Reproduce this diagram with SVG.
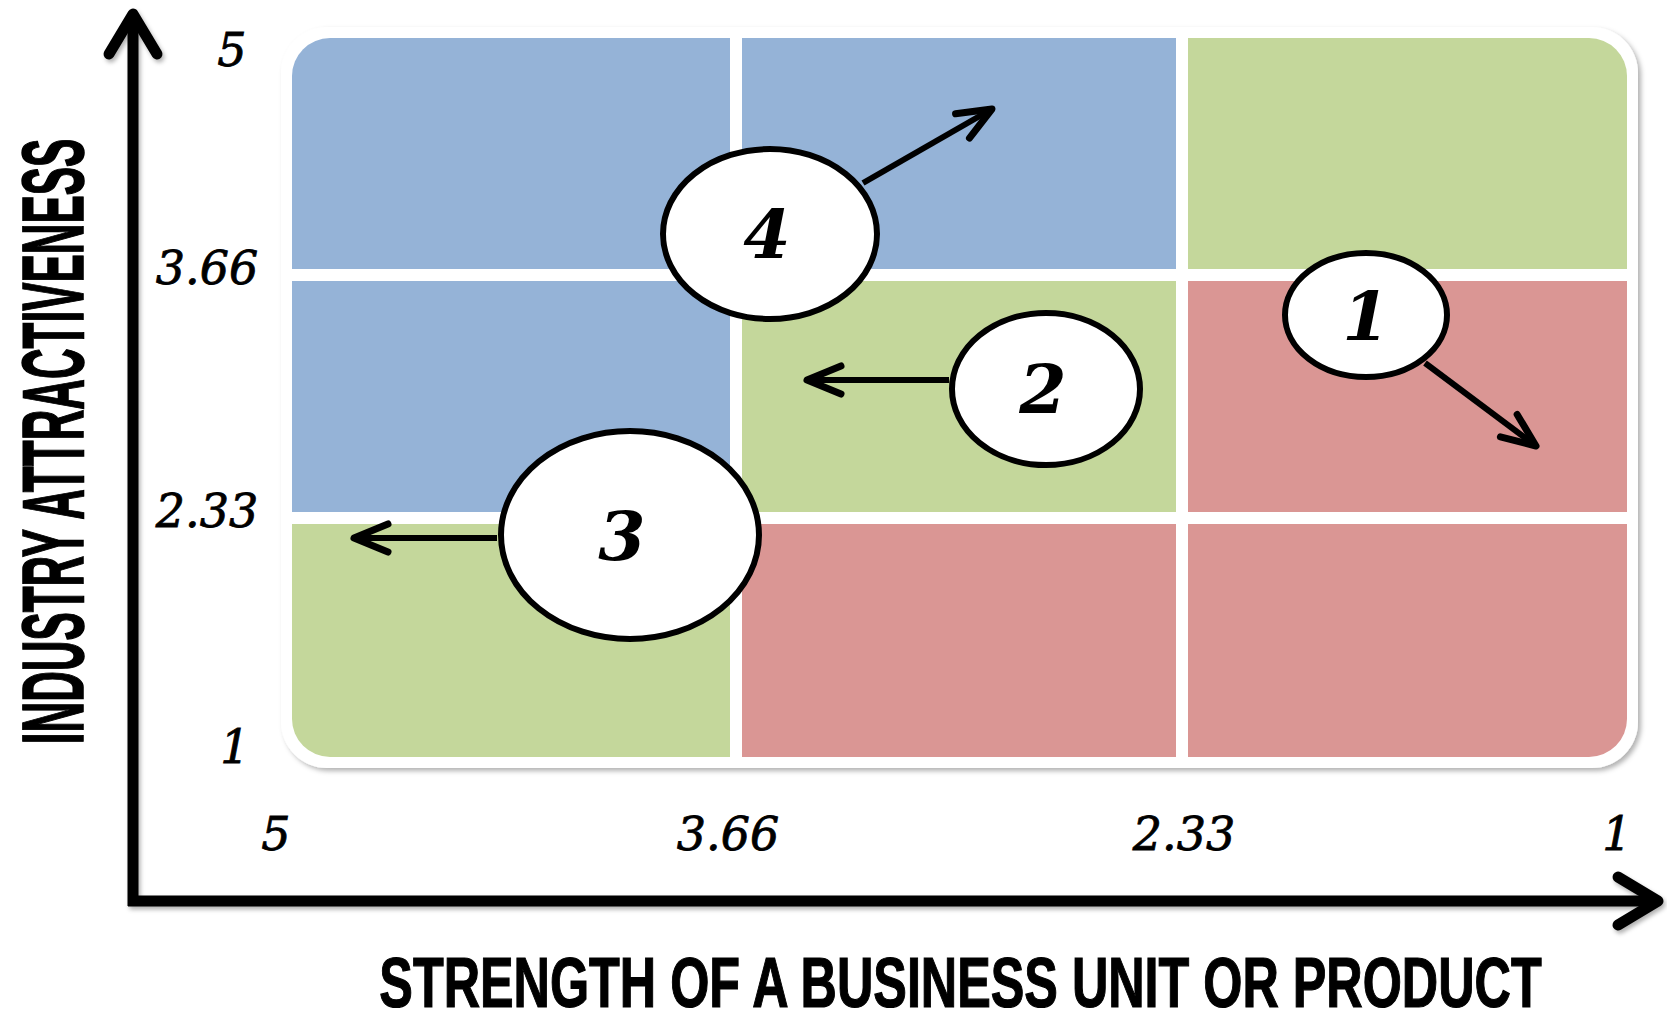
<svg xmlns="http://www.w3.org/2000/svg" width="1667" height="1013" viewBox="0 0 1667 1013">
  <defs>
    <style>
      .tick{font-family:"DejaVu Serif","Liberation Serif",serif;font-style:italic;font-size:46px;fill:#000;stroke:#000;stroke-width:0.8;text-anchor:middle}
      .title{font-family:"Liberation Sans","DejaVu Sans",sans-serif;font-weight:bold;fill:#000;stroke:#000;text-anchor:middle}
      .bubble ellipse{fill:#fff;stroke:#000;stroke-width:6}
      .bubble text{font-family:"DejaVu Serif","Liberation Serif",serif;font-style:italic;font-weight:bold;font-size:68px;fill:#000;text-anchor:middle}
      .blue{fill:#95B3D7}
      .green{fill:#C4D79B}
      .red{fill:#DA9694}
      .link{stroke:#000;stroke-width:6;fill:none;marker-end:url(#head)}
      .axis{stroke:#000;stroke-width:11;fill:none}
    </style>
    <filter id="soft" x="-5%" y="-5%" width="110%" height="110%">
      <feDropShadow dx="3" dy="3" stdDeviation="2.5" flood-color="#000" flood-opacity="0.3"/>
    </filter>
    <filter id="axshadow" x="-5%" y="-5%" width="110%" height="110%">
      <feDropShadow dx="2" dy="3" stdDeviation="2" flood-color="#000" flood-opacity="0.3"/>
    </filter>
    <clipPath id="gridclip">
      <rect x="292" y="38" width="1335" height="719" rx="38" ry="38"/>
    </clipPath>
    <marker id="head" markerUnits="userSpaceOnUse" viewBox="-44 -22 52 44" refX="0" refY="0" markerWidth="52" markerHeight="44" orient="auto">
      <path d="M-34,-14 L0,0 L-34,14" fill="none" stroke="#000" stroke-width="7" stroke-linecap="round" stroke-linejoin="round"/>
    </marker>
    <marker id="axhead" markerUnits="userSpaceOnUse" viewBox="-56 -34 66 68" refX="0" refY="0" markerWidth="66" markerHeight="68" orient="auto">
      <path d="M-40,-24 L0,0 L-40,24" fill="none" stroke="#000" stroke-width="11" stroke-linecap="round" stroke-linejoin="round"/>
    </marker>
  </defs>

  <rect width="1667" height="1013" fill="#fff"/>

  <!-- axes -->
  <g id="axes" filter="url(#axshadow)">
    <line class="axis" x1="133" y1="906" x2="133" y2="14" marker-end="url(#axhead)"/>
    <line class="axis" x1="128" y1="901" x2="1658" y2="901" marker-end="url(#axhead)"/>
  </g>

  <!-- axis titles (condensed by horizontal scaling) -->
  <text class="title" transform="translate(960.5,1007) scale(0.709,1)" font-size="71" stroke-width="1.2">STRENGTH OF A BUSINESS UNIT OR PRODUCT</text>
  <text class="title" transform="translate(83,441.5) rotate(-90) scale(0.482,1)" font-size="88" stroke-width="1.6">INDUSTRY ATTRACTIVENESS</text>

  <!-- tick values -->
  <g id="ticks">
    <text class="tick" x="232" y="66">5</text>
    <text class="tick" x="207" y="284">3.66</text>
    <text class="tick" x="207" y="527">2.33</text>
    <text class="tick" x="235" y="763">1</text>
    <text class="tick" x="276" y="850">5</text>
    <text class="tick" x="728" y="850">3.66</text>
    <text class="tick" x="1184" y="850">2.33</text>
    <text class="tick" x="1617" y="850">1</text>
  </g>

  <!-- 3x3 matrix -->
  <g id="grid">
    <rect x="281" y="27" width="1357" height="741" rx="46" ry="46" fill="#fff" filter="url(#soft)"/>
    <g clip-path="url(#gridclip)">
      <rect class="blue" x="292" y="38" width="438" height="231"/>
      <rect class="blue" x="742" y="38" width="434" height="231"/>
      <rect class="green" x="1188" y="38" width="439" height="231"/>
      <rect class="blue" x="292" y="281" width="438" height="231"/>
      <rect class="green" x="742" y="281" width="434" height="231"/>
      <rect class="red" x="1188" y="281" width="439" height="231"/>
      <rect class="green" x="292" y="524" width="438" height="233"/>
      <rect class="red" x="742" y="524" width="434" height="233"/>
      <rect class="red" x="1188" y="524" width="439" height="233"/>
    </g>
  </g>

  <!-- movement arrows -->
  <g id="connectors">
    <line class="link" x1="1425" y1="363" x2="1536" y2="446"/>
    <line class="link" x1="949" y1="380" x2="807" y2="380"/>
    <line class="link" x1="497" y1="538" x2="354" y2="538"/>
    <line class="link" x1="863" y1="183" x2="992" y2="109"/>
  </g>

  <!-- positions -->
  <g id="node-1" class="bubble">
    <ellipse cx="1366" cy="315" rx="81" ry="62"/>
    <text x="1366" y="340" font-size="58">1</text>
  </g>
  <g id="node-2" class="bubble">
    <ellipse cx="1046" cy="389" rx="94" ry="76"/>
    <text x="1043" y="413">2</text>
  </g>
  <g id="node-3" class="bubble">
    <ellipse cx="630" cy="535" rx="129" ry="104"/>
    <text x="622" y="560">3</text>
  </g>
  <g id="node-4" class="bubble">
    <ellipse cx="770" cy="234" rx="107" ry="85"/>
    <text x="767" y="258">4</text>
  </g>
</svg>
